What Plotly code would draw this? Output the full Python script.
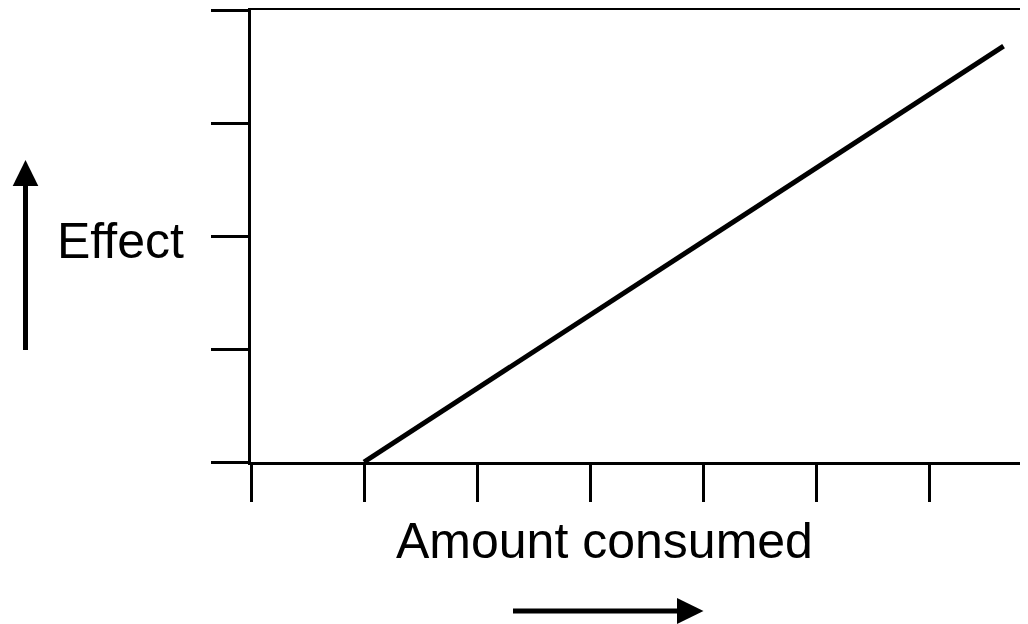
import plotly.graph_objects as go

# Data
amount = [1.0, 6.66]
effect = [0.0, 3.68]
x_ticks = [0, 1, 2, 3, 4, 5, 6]
y_ticks = [0, 1, 2, 3, 4]
x_label = "Amount consumed"
y_label = "Effect"

OFF = 8  # page body margin offset
W, H = 1028 - OFF, 624 - OFF
PLOT_X0, PLOT_X1, PLOT_Y0, PLOT_Y1 = 251, 1028, 10, 462  # page pixel coords
L = PLOT_X0 - OFF
T = PLOT_Y0 - OFF
R = 0
B = H - (PLOT_Y1 - OFF)
PW, PH = PLOT_X1 - PLOT_X0, PLOT_Y1 - PLOT_Y0


def px(xp):
    return (xp - PLOT_X0) / PW


def py(yp):
    return (PLOT_Y1 - yp) / PH


fig = go.Figure()
fig.add_trace(go.Scatter(x=amount, y=effect, mode="lines",
                         line=dict(color="black", width=5), showlegend=False,
                         hoverinfo="skip"))

axis_common = dict(showgrid=False, zeroline=False, showline=True, linecolor="black",
                   linewidth=3, ticks="outside", ticklen=37, tickwidth=3,
                   tickcolor="black", showticklabels=False)
fig.update_xaxes(range=[0, PW / 113.0], tickvals=x_ticks, mirror=True, **axis_common)
fig.update_yaxes(range=[0, 4], tickvals=y_ticks, **axis_common)

font = dict(family="Liberation Sans, Arial, sans-serif", size=50, color="black")
fig.add_annotation(text=y_label, xref="paper", yref="paper", x=px(120), y=py(241),
                   xanchor="center", yanchor="middle", showarrow=False, font=font)
fig.add_annotation(text=x_label, xref="paper", yref="paper", x=px(604.5), y=py(541),
                   xanchor="center", yanchor="middle", showarrow=False, font=font)

# Arrows (paper coordinates)
# vertical arrow
fig.add_shape(type="line", xref="paper", yref="paper",
              x0=px(25.5), x1=px(25.5), y0=py(350), y1=py(184),
              line=dict(color="black", width=5))
fig.add_shape(type="path", xref="paper", yref="paper",
              path=f"M {px(12.7)} {py(186)} L {px(25.5)} {py(160)} L {px(38.3)} {py(186)} Z",
              fillcolor="black", line=dict(color="black", width=0))
# horizontal arrow
fig.add_shape(type="line", xref="paper", yref="paper",
              x0=px(513), x1=px(679), y0=py(611), y1=py(611),
              line=dict(color="black", width=5))
fig.add_shape(type="path", xref="paper", yref="paper",
              path=f"M {px(677)} {py(598)} L {px(703.5)} {py(611)} L {px(677)} {py(624)} Z",
              fillcolor="black", line=dict(color="black", width=0))

fig.update_layout(width=W, height=H, margin=dict(l=L, r=R, t=T, b=B),
                  plot_bgcolor="white", paper_bgcolor="white")

fig.write_html("out.html")
